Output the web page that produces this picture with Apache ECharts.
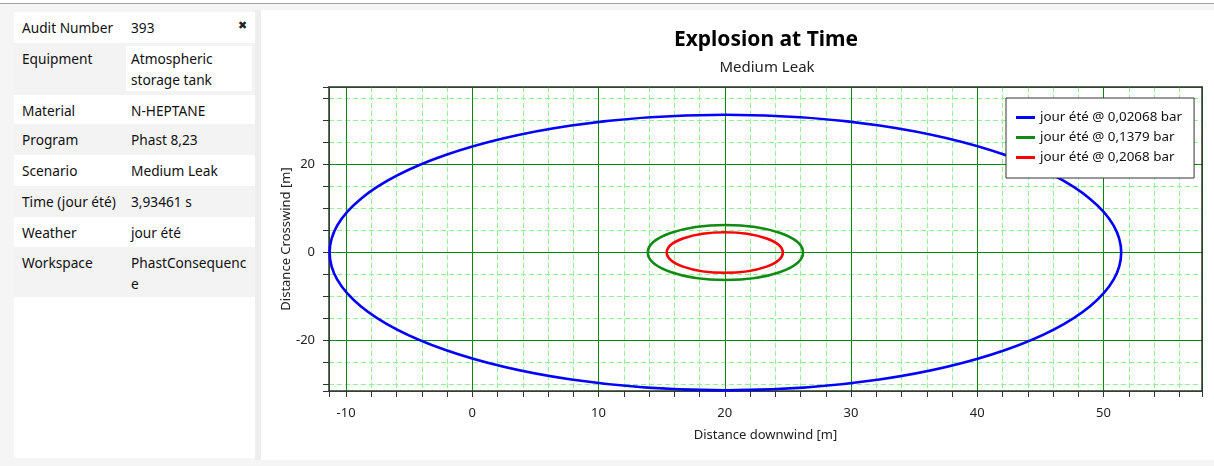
<!DOCTYPE html>
<html>
<head>
<meta charset="utf-8">
<script src="https://cdn.jsdelivr.net/npm/echarts@6/dist/echarts.min.js"></script>
<style>
  html, body { margin: 0; padding: 0; width: 1214px; height: 466px; overflow: hidden;
    background: #f5f5f5; font-family: "Noto Sans", "Open Sans", sans-serif; }
  #topline { position: absolute; left: 0; top: 0; width: 1214px; height: 3px; background: #fff;
    border-bottom: 1px solid #a3a3a3; }
  #panel { position: absolute; left: 14px; top: 12px; width: 241px; height: 446px; background: #fff; }
  #divider { position: absolute; left: 255px; top: 10px; width: 6px; height: 450px; background: #eeeeee; }
  #chartbg { position: absolute; left: 261px; top: 10px; width: 953px; height: 450px; background: #fff; }
  .row { position: absolute; left: 0; width: 241px; }
  .row.alt { background: #f3f3f3; }
  .lbl, .val { position: absolute; top: 5px; font-size: 13.7px; line-height: 21px; color: #111; }
  .lbl { left: 8px; }
  .val { left: 117px; width: 124px; }
  .box { position: absolute; left: 112px; top: 3px; width: 126px; height: 45px; background: #fff; }
  #close { position: absolute; left: 238px; top: 19px; font-size: 11px; font-family: "DejaVu Sans", sans-serif; color: #222; }
  #chart { position: absolute; left: 0; top: 0; width: 1214px; height: 466px; }
</style>
</head>
<body>
<div id="topline"></div>
<div id="panel"></div>
<div id="divider"></div>
<div id="chartbg"></div>
<div id="close">✖</div>
<div id="chart"></div>
<script>
// Scenario details shown in the side table
const infoLabels = ['Audit Number', 'Equipment', 'Material', 'Program', 'Scenario', 'Time (jour été)', 'Weather', 'Workspace'];
const infoValues = ['393', 'Atmospheric<br>storage tank', 'N-HEPTANE', 'Phast 8,23', 'Medium Leak', '3,93461 s', 'jour été', 'PhastConsequenc<br>e'];
const infoRowHeights = [31, 52, 29, 31, 31, 31, 30, 50];

// Overpressure contours: downwind extent [from, to] and crosswind half-width, metres
const contourNames = ['jour été @ 0,02068 bar', 'jour été @ 0,1379 bar', 'jour été @ 0,2068 bar'];
const contourDownwindStart = [-11.3, 13.9, 15.4];
const contourDownwindEnd = [51.4, 26.2, 24.6];
const contourHalfWidth = [31.3, 6.25, 4.6];
const contourColors = ['#0000ff', '#108a10', '#ff0000'];

// Axis ranges
const downwindRange = [-11.35, 57.8];
const crosswindRange = [-31.45, 37.6];

// Build side table
(function () {
  const panel = document.getElementById('panel');
  let top = 0;
  infoLabels.forEach((label, i) => {
    const row = document.createElement('div');
    row.className = 'row' + (i % 2 === 1 ? ' alt' : '');
    row.style.top = top + 'px';
    row.style.height = infoRowHeights[i] + 'px';
    let html = '';
    if (i === 1) html += '<div class="box"></div>';
    html += '<div class="lbl">' + label + '</div><div class="val">' + infoValues[i] + '</div>';
    row.innerHTML = html;
    panel.appendChild(row);
    top += infoRowHeights[i];
  });
})();

const chart = echarts.init(document.getElementById('chart'), null, { renderer: 'canvas' });

const font = '"Noto Sans", "Open Sans", sans-serif';
const axisColor = '#333333';

const gridBox = { left: 329, top: 87, right: 12, bottom: 75 };

function contourSeries(i) {
  return {
    type: 'custom',
    name: contourNames[i],
    coordinateSystem: 'cartesian2d',
    xAxisIndex: 0,
    yAxisIndex: 0,
    clip: false,
    itemStyle: { color: contourColors[i] },
    data: [[contourDownwindStart[i], contourDownwindEnd[i], contourHalfWidth[i]]],
    encode: { x: [0, 1], y: 2 },
    renderItem: function (params, api) {
      const a = api.coord([api.value(0), 0]);
      const b = api.coord([api.value(1), 0]);
      const mid = (api.value(0) + api.value(1)) / 2;
      const t = api.coord([mid, api.value(2)]);
      return {
        type: 'ellipse',
        shape: { cx: (a[0] + b[0]) / 2, cy: a[1], rx: Math.abs(b[0] - a[0]) / 2, ry: Math.abs(a[1] - t[1]) },
        style: { fill: 'none', stroke: contourColors[i], lineWidth: 2.6 }
      };
    }
  };
}

function mainAxis(range, split, minorSplit, extra) {
  return Object.assign({
    type: 'value',
    min: range[0],
    max: range[1],
    splitNumber: split,
    axisLine: { show: true, onZero: false, lineStyle: { color: axisColor, width: 1.5 } },
    axisTick: { show: true, inside: false, length: 6, lineStyle: { color: axisColor, width: 1 } },
    minorTick: { show: true, splitNumber: minorSplit, length: 6, lineStyle: { color: axisColor, width: 1 } },
    splitLine: { show: true, lineStyle: { color: '#0a880a', width: 1 } },
    minorSplitLine: { show: true, lineStyle: { color: '#95ef95', width: 1, type: [5, 3] } },
    nameMoveOverlap: false,
    nameTextStyle: { fontSize: 13, color: '#222', fontFamily: font }
  }, extra);
}

function borderAxis(range, position) {
  return {
    type: 'value', min: range[0], max: range[1], position: position, z: 5,
    axisLine: { show: true, onZero: false, lineStyle: { color: axisColor, width: 1.5 } },
    axisTick: { show: false }, axisLabel: { show: false }, splitLine: { show: false }
  };
}

chart.setOption({
  animation: false,
  grid: gridBox,
  graphic: [
    { type: 'text', x: 766, y: 40, style: { text: 'Explosion at Time', x: 0, y: 0,
      align: 'center', verticalAlign: 'middle', font: 'bold 21px ' + font, fill: '#000' } },
    { type: 'text', x: 767, y: 68, style: { text: 'Medium Leak', x: 0, y: 0,
      align: 'center', verticalAlign: 'middle', font: '15px ' + font, fill: '#222' } }
  ],
  legend: {
    orient: 'vertical',
    left: 1006,
    top: 98,
    padding: [13, 12, 14, 10],
    itemGap: 7,
    itemWidth: 19,
    itemHeight: 3,
    icon: 'rect',
    backgroundColor: '#ffffff',
    borderColor: '#333333',
    borderWidth: 1,
    borderRadius: 0,
    textStyle: { fontSize: 13.4, color: '#111', fontFamily: font },
    data: contourNames.map((n, i) => ({ name: n, itemStyle: { color: contourColors[i] } }))
  },
  xAxis: [
    mainAxis(downwindRange, 7, 5, {
      position: 'bottom',
      name: 'Distance downwind [m]', nameLocation: 'middle', nameGap: 38,
      axisLabel: { showMinLabel: false, showMaxLabel: false, fontSize: 13, color: '#222', fontFamily: font, margin: 16 }
    }),
    borderAxis(downwindRange, 'top')
  ],
  yAxis: [
    mainAxis(crosswindRange, 4, 4, {
      position: 'left',
      name: 'Distance Crosswind [m]', nameLocation: 'middle', nameGap: 36,
      axisLabel: { showMinLabel: false, showMaxLabel: false, fontSize: 13, color: '#222', fontFamily: font, margin: 14 }
    }),
    borderAxis(crosswindRange, 'right')
  ],
  series: contourNames.map((n, i) => contourSeries(i))
});
</script>
</body>
</html>
